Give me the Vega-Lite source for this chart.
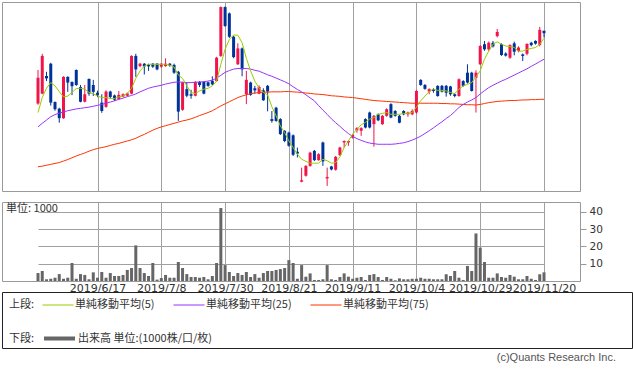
{
  "$schema": "https://vega.github.io/schema/vega-lite/v6.json",
  "padding": {"left": 1, "top": 1, "right": 0, "bottom": 0},
  "background": "white",
  "bounds": "flush",
  "spacing": 11,
  "datasets": {
    "p": [
      {"d":"2019/5/28","o":2869,"h":2981,"l":2865,"c":2955,"v":4.6,"m5":2839,"m25":2791,"m75":2658},
      {"d":"2019/5/29","o":2902,"h":3035,"l":2900,"c":3028,"v":5.8,"m5":2889,"m25":2803,"m75":2660},
      {"d":"2019/5/30","o":2961,"h":2975,"l":2944,"c":2953,"v":1.0,"m5":2920,"m25":2814,"m75":2663},
      {"d":"2019/5/31","o":3002,"h":3005,"l":2862,"c":2872,"v":1.3,"m5":2939,"m25":2825,"m75":2666},
      {"d":"2019/6/3","o":2874,"h":2876,"l":2845,"c":2850,"v":1.9,"m5":2928,"m25":2832,"m75":2669},
      {"d":"2019/6/4","o":2852,"h":2855,"l":2805,"c":2820,"v":4.0,"m5":2909,"m25":2837,"m75":2672},
      {"d":"2019/6/5","o":2820,"h":2960,"l":2818,"c":2958,"v":1.3,"m5":2891,"m25":2841,"m75":2677},
      {"d":"2019/6/6","o":2958,"h":2960,"l":2908,"c":2939,"v":1.9,"m5":2894,"m25":2845,"m75":2682},
      {"d":"2019/6/7","o":2941,"h":2943,"l":2897,"c":2927,"v":10.4,"m5":2906,"m25":2848,"m75":2688},
      {"d":"2019/6/10","o":2981,"h":2983,"l":2928,"c":2931,"v":1.3,"m5":2919,"m25":2851,"m75":2694},
      {"d":"2019/6/11","o":2924,"h":2931,"l":2873,"c":2875,"v":4.0,"m5":2920,"m25":2853,"m75":2699},
      {"d":"2019/6/12","o":2875,"h":2931,"l":2873,"c":2900,"v":3.5,"m5":2917,"m25":2855,"m75":2704},
      {"d":"2019/6/13","o":2951,"h":2953,"l":2895,"c":2902,"v":1.0,"m5":2906,"m25":2857,"m75":2710},
      {"d":"2019/6/14","o":2931,"h":2948,"l":2894,"c":2908,"v":5.0,"m5":2902,"m25":2860,"m75":2715},
      {"d":"2019/6/17","o":2905,"h":2912,"l":2890,"c":2898,"v":1.9,"m5":2894,"m25":2863,"m75":2719},
      {"d":"2019/6/18","o":2872,"h":2900,"l":2838,"c":2844,"v":5.2,"m5":2889,"m25":2866,"m75":2722},
      {"d":"2019/6/19","o":2858,"h":2913,"l":2855,"c":2909,"v":1.9,"m5":2889,"m25":2870,"m75":2725},
      {"d":"2019/6/20","o":2909,"h":2912,"l":2885,"c":2891,"v":4.6,"m5":2886,"m25":2874,"m75":2729},
      {"d":"2019/6/21","o":2896,"h":2899,"l":2878,"c":2882,"v":2.9,"m5":2886,"m25":2878,"m75":2733},
      {"d":"2019/6/24","o":2884,"h":2911,"l":2882,"c":2898,"v":2.9,"m5":2891,"m25":2883,"m75":2736},
      {"d":"2019/6/25","o":2892,"h":2903,"l":2890,"c":2900,"v":3.5,"m5":2894,"m25":2887,"m75":2740},
      {"d":"2019/6/26","o":2895,"h":2906,"l":2893,"c":2903,"v":6.4,"m5":2902,"m25":2892,"m75":2744},
      {"d":"2019/6/27","o":2902,"h":3030,"l":2900,"c":3028,"v":7.5,"m5":2920,"m25":2896,"m75":2748},
      {"d":"2019/6/28","o":3028,"h":3035,"l":2958,"c":2983,"v":20.6,"m5":2953,"m25":2901,"m75":2753},
      {"d":"2019/7/1","o":2994,"h":3005,"l":2990,"c":3002,"v":7.5,"m5":2978,"m25":2908,"m75":2760},
      {"d":"2019/7/2","o":3002,"h":3004,"l":2966,"c":2993,"v":4.6,"m5":2994,"m25":2914,"m75":2766},
      {"d":"2019/7/3","o":2998,"h":3002,"l":2978,"c":2993,"v":2.9,"m5":3000,"m25":2920,"m75":2773},
      {"d":"2019/7/4","o":3002,"h":3004,"l":2988,"c":2992,"v":10.4,"m5":3000,"m25":2924,"m75":2780},
      {"d":"2019/7/5","o":3002,"h":3004,"l":2980,"c":2983,"v":0.8,"m5":3000,"m25":2927,"m75":2786},
      {"d":"2019/7/8","o":2992,"h":3004,"l":2988,"c":3002,"v":1.7,"m5":3000,"m25":2930,"m75":2791},
      {"d":"2019/7/9","o":2994,"h":3020,"l":2992,"c":3002,"v":3.5,"m5":3000,"m25":2934,"m75":2795},
      {"d":"2019/7/10","o":3002,"h":3004,"l":2992,"c":2996,"v":1.9,"m5":2997,"m25":2937,"m75":2799},
      {"d":"2019/7/11","o":2998,"h":3002,"l":2968,"c":2972,"v":1.9,"m5":2991,"m25":2940,"m75":2803},
      {"d":"2019/7/12","o":2975,"h":2978,"l":2811,"c":2842,"v":11.0,"m5":2964,"m25":2941,"m75":2807},
      {"d":"2019/7/16","o":2848,"h":2942,"l":2845,"c":2939,"v":7.5,"m5":2953,"m25":2940,"m75":2811},
      {"d":"2019/7/17","o":2917,"h":2940,"l":2890,"c":2895,"v":4.0,"m5":2928,"m25":2939,"m75":2814},
      {"d":"2019/7/18","o":2900,"h":2915,"l":2885,"c":2895,"v":2.3,"m5":2906,"m25":2939,"m75":2818},
      {"d":"2019/7/19","o":2895,"h":2944,"l":2893,"c":2941,"v":2.3,"m5":2902,"m25":2940,"m75":2823},
      {"d":"2019/7/22","o":2941,"h":2944,"l":2924,"c":2931,"v":1.9,"m5":2911,"m25":2941,"m75":2829},
      {"d":"2019/7/23","o":2941,"h":2944,"l":2900,"c":2902,"v":2.3,"m5":2917,"m25":2942,"m75":2834},
      {"d":"2019/7/24","o":2940,"h":2942,"l":2925,"c":2928,"v":1.0,"m5":2920,"m25":2944,"m75":2839},
      {"d":"2019/7/25","o":2945,"h":2960,"l":2930,"c":2933,"v":2.9,"m5":2928,"m25":2947,"m75":2845},
      {"d":"2019/7/26","o":2944,"h":3025,"l":2942,"c":3022,"v":10.4,"m5":2944,"m25":2954,"m75":2853},
      {"d":"2019/7/29","o":3028,"h":3193,"l":3025,"c":3191,"v":42.2,"m5":3000,"m25":2963,"m75":2861},
      {"d":"2019/7/30","o":3191,"h":3193,"l":3125,"c":3128,"v":9.2,"m5":3050,"m25":2973,"m75":2868},
      {"d":"2019/7/31","o":3170,"h":3173,"l":3088,"c":3092,"v":5.2,"m5":3083,"m25":2979,"m75":2875},
      {"d":"2019/8/1","o":3092,"h":3095,"l":3020,"c":3024,"v":2.9,"m5":3098,"m25":2984,"m75":2882},
      {"d":"2019/8/2","o":3000,"h":3070,"l":2998,"c":3053,"v":4.6,"m5":3097,"m25":2986,"m75":2889},
      {"d":"2019/8/5","o":3053,"h":3056,"l":2960,"c":2983,"v":3.5,"m5":3072,"m25":2986,"m75":2894},
      {"d":"2019/8/6","o":2900,"h":2978,"l":2867,"c":2948,"v":5.2,"m5":3020,"m25":2986,"m75":2898},
      {"d":"2019/8/7","o":2939,"h":2942,"l":2895,"c":2898,"v":2.3,"m5":2978,"m25":2984,"m75":2902},
      {"d":"2019/8/8","o":2920,"h":2928,"l":2902,"c":2913,"v":4.0,"m5":2944,"m25":2980,"m75":2904},
      {"d":"2019/8/9","o":2902,"h":2930,"l":2900,"c":2924,"v":1.9,"m5":2920,"m25":2977,"m75":2906},
      {"d":"2019/8/13","o":2913,"h":2920,"l":2878,"c":2880,"v":4.6,"m5":2906,"m25":2971,"m75":2907},
      {"d":"2019/8/14","o":2928,"h":2931,"l":2843,"c":2909,"v":5.8,"m5":2898,"m25":2965,"m75":2907},
      {"d":"2019/8/15","o":2817,"h":2844,"l":2805,"c":2811,"v":5.8,"m5":2858,"m25":2960,"m75":2908},
      {"d":"2019/8/16","o":2855,"h":2858,"l":2808,"c":2811,"v":6.4,"m5":2828,"m25":2954,"m75":2908},
      {"d":"2019/8/19","o":2817,"h":2820,"l":2764,"c":2767,"v":6.9,"m5":2794,"m25":2948,"m75":2908},
      {"d":"2019/8/20","o":2778,"h":2780,"l":2740,"c":2744,"v":7.5,"m5":2772,"m25":2942,"m75":2909},
      {"d":"2019/8/21","o":2772,"h":2775,"l":2725,"c":2728,"v":12.1,"m5":2744,"m25":2935,"m75":2909},
      {"d":"2019/8/22","o":2763,"h":2766,"l":2694,"c":2698,"v":10.4,"m5":2722,"m25":2925,"m75":2908},
      {"d":"2019/8/23","o":2708,"h":2722,"l":2689,"c":2702,"v":1.3,"m5":2700,"m25":2916,"m75":2907},
      {"d":"2019/8/26","o":2608,"h":2655,"l":2606,"c":2613,"v":9.2,"m5":2683,"m25":2908,"m75":2906},
      {"d":"2019/8/27","o":2628,"h":2663,"l":2625,"c":2661,"v":2.5,"m5":2676,"m25":2898,"m75":2904},
      {"d":"2019/8/28","o":2661,"h":2708,"l":2658,"c":2705,"v":4.4,"m5":2670,"m25":2888,"m75":2903},
      {"d":"2019/8/29","o":2711,"h":2714,"l":2677,"c":2680,"v":0.6,"m5":2670,"m25":2878,"m75":2901},
      {"d":"2019/8/30","o":2680,"h":2703,"l":2678,"c":2700,"v":0.6,"m5":2670,"m25":2862,"m75":2900},
      {"d":"2019/9/2","o":2739,"h":2742,"l":2661,"c":2676,"v":1.0,"m5":2683,"m25":2847,"m75":2899},
      {"d":"2019/9/3","o":2619,"h":2655,"l":2594,"c":2624,"v":9.2,"m5":2678,"m25":2833,"m75":2897},
      {"d":"2019/9/4","o":2659,"h":2661,"l":2646,"c":2649,"v":1.0,"m5":2670,"m25":2818,"m75":2895},
      {"d":"2019/9/5","o":2648,"h":2694,"l":2645,"c":2691,"v":0.6,"m5":2672,"m25":2805,"m75":2894},
      {"d":"2019/9/6","o":2697,"h":2725,"l":2694,"c":2722,"v":2.3,"m5":2691,"m25":2793,"m75":2893},
      {"d":"2019/9/9","o":2739,"h":2746,"l":2722,"c":2744,"v":4.4,"m5":2722,"m25":2780,"m75":2891},
      {"d":"2019/9/10","o":2739,"h":2746,"l":2728,"c":2744,"v":2.5,"m5":2744,"m25":2769,"m75":2890},
      {"d":"2019/9/11","o":2755,"h":2767,"l":2752,"c":2764,"v":1.3,"m5":2767,"m25":2759,"m75":2889},
      {"d":"2019/9/12","o":2780,"h":2790,"l":2772,"c":2787,"v":1.9,"m5":2783,"m25":2752,"m75":2887},
      {"d":"2019/9/13","o":2778,"h":2790,"l":2761,"c":2787,"v":2.3,"m5":2798,"m25":2746,"m75":2885},
      {"d":"2019/9/17","o":2817,"h":2820,"l":2786,"c":2789,"v":0.6,"m5":2806,"m25":2741,"m75":2883},
      {"d":"2019/9/18","o":2839,"h":2842,"l":2786,"c":2789,"v":3.5,"m5":2817,"m25":2737,"m75":2881},
      {"d":"2019/9/19","o":2800,"h":2831,"l":2725,"c":2828,"v":4.0,"m5":2822,"m25":2735,"m75":2879},
      {"d":"2019/9/20","o":2833,"h":2836,"l":2810,"c":2813,"v":2.3,"m5":2833,"m25":2733,"m75":2878},
      {"d":"2019/9/24","o":2800,"h":2831,"l":2798,"c":2828,"v":0.6,"m5":2836,"m25":2733,"m75":2877},
      {"d":"2019/9/25","o":2828,"h":2853,"l":2825,"c":2850,"v":2.3,"m5":2839,"m25":2733,"m75":2876},
      {"d":"2019/9/26","o":2867,"h":2870,"l":2820,"c":2822,"v":1.3,"m5":2833,"m25":2733,"m75":2875},
      {"d":"2019/9/27","o":2844,"h":2847,"l":2825,"c":2828,"v":0.4,"m5":2833,"m25":2734,"m75":2874},
      {"d":"2019/9/30","o":2828,"h":2831,"l":2803,"c":2805,"v":1.5,"m5":2833,"m25":2736,"m75":2873},
      {"d":"2019/10/1","o":2844,"h":2847,"l":2830,"c":2833,"v":1.0,"m5":2836,"m25":2738,"m75":2872},
      {"d":"2019/10/2","o":2833,"h":2842,"l":2825,"c":2839,"v":1.0,"m5":2836,"m25":2742,"m75":2871},
      {"d":"2019/10/3","o":2833,"h":2850,"l":2830,"c":2844,"v":1.3,"m5":2839,"m25":2747,"m75":2870},
      {"d":"2019/10/4","o":2839,"h":2914,"l":2835,"c":2911,"v":1.3,"m5":2857,"m25":2753,"m75":2870},
      {"d":"2019/10/7","o":2948,"h":2950,"l":2928,"c":2931,"v":1.9,"m5":2878,"m25":2760,"m75":2870},
      {"d":"2019/10/8","o":2931,"h":2934,"l":2915,"c":2918,"v":1.3,"m5":2894,"m25":2769,"m75":2870},
      {"d":"2019/10/9","o":2909,"h":2920,"l":2900,"c":2917,"v":1.3,"m5":2909,"m25":2778,"m75":2870},
      {"d":"2019/10/10","o":2917,"h":2920,"l":2905,"c":2911,"v":1.0,"m5":2917,"m25":2788,"m75":2870},
      {"d":"2019/10/11","o":2928,"h":2930,"l":2892,"c":2894,"v":1.0,"m5":2913,"m25":2798,"m75":2870},
      {"d":"2019/10/15","o":2928,"h":2931,"l":2906,"c":2909,"v":1.0,"m5":2913,"m25":2808,"m75":2869},
      {"d":"2019/10/16","o":2928,"h":2931,"l":2892,"c":2905,"v":3.9,"m5":2911,"m25":2819,"m75":2869},
      {"d":"2019/10/17","o":2926,"h":2928,"l":2895,"c":2900,"v":2.9,"m5":2906,"m25":2829,"m75":2868},
      {"d":"2019/10/18","o":2900,"h":2903,"l":2890,"c":2894,"v":5.8,"m5":2902,"m25":2842,"m75":2868},
      {"d":"2019/10/21","o":2894,"h":2953,"l":2892,"c":2950,"v":1.9,"m5":2917,"m25":2856,"m75":2867},
      {"d":"2019/10/23","o":2944,"h":2947,"l":2925,"c":2928,"v":0.6,"m5":2928,"m25":2866,"m75":2866},
      {"d":"2019/10/24","o":2972,"h":3000,"l":2936,"c":2939,"v":8.7,"m5":2933,"m25":2874,"m75":2865},
      {"d":"2019/10/25","o":2972,"h":2975,"l":2909,"c":2911,"v":5.8,"m5":2939,"m25":2881,"m75":2865},
      {"d":"2019/10/28","o":2955,"h":2980,"l":2839,"c":2972,"v":27.5,"m5":2958,"m25":2889,"m75":2864},
      {"d":"2019/10/29","o":3000,"h":3064,"l":2998,"c":3061,"v":19.3,"m5":2978,"m25":2901,"m75":2866},
      {"d":"2019/10/30","o":3067,"h":3078,"l":3045,"c":3050,"v":11.0,"m5":3017,"m25":2912,"m75":2869},
      {"d":"2019/10/31","o":3050,"h":3076,"l":3045,"c":3072,"v":1.9,"m5":3044,"m25":2922,"m75":2872},
      {"d":"2019/11/1","o":3072,"h":3078,"l":3056,"c":3060,"v":1.9,"m5":3067,"m25":2930,"m75":2874},
      {"d":"2019/11/5","o":3094,"h":3118,"l":3090,"c":3108,"v":4.4,"m5":3075,"m25":2937,"m75":2876},
      {"d":"2019/11/6","o":3067,"h":3070,"l":3028,"c":3031,"v":2.3,"m5":3067,"m25":2944,"m75":2877},
      {"d":"2019/11/7","o":3036,"h":3040,"l":3026,"c":3029,"v":1.9,"m5":3061,"m25":2950,"m75":2878},
      {"d":"2019/11/8","o":3022,"h":3067,"l":3018,"c":3064,"v":3.5,"m5":3059,"m25":2957,"m75":2879},
      {"d":"2019/11/11","o":3070,"h":3076,"l":3030,"c":3042,"v":2.5,"m5":3056,"m25":2964,"m75":2879},
      {"d":"2019/11/12","o":3044,"h":3060,"l":3040,"c":3056,"v":1.0,"m5":3044,"m25":2971,"m75":2880},
      {"d":"2019/11/13","o":3033,"h":3036,"l":3011,"c":3028,"v":1.0,"m5":3044,"m25":2978,"m75":2881},
      {"d":"2019/11/14","o":3035,"h":3070,"l":3030,"c":3068,"v":2.9,"m5":3050,"m25":2985,"m75":2881},
      {"d":"2019/11/15","o":3072,"h":3075,"l":3060,"c":3064,"v":1.3,"m5":3053,"m25":2993,"m75":2882},
      {"d":"2019/11/18","o":3078,"h":3080,"l":3066,"c":3069,"v":0.6,"m5":3056,"m25":3001,"m75":2882},
      {"d":"2019/11/19","o":3065,"h":3125,"l":3060,"c":3115,"v":3.9,"m5":3067,"m25":3009,"m75":2883},
      {"d":"2019/11/20","o":3112,"h":3112,"l":3090,"c":3104,"v":5.0,"m5":3087,"m25":3017,"m75":2883}
    ],
    "lg": [
      {"s": "単純移動平均(5)"},
      {"s": "単純移動平均(25)"},
      {"s": "単純移動平均(75)"}
    ]
  },
  "vconcat": [
    {
      "width": 578,
      "height": 189,
      "data": {"name": "p"},
      "encoding": {
        "x": {
          "field": "d", "type": "ordinal", "sort": null,
          "scale": {"type": "point", "padding": 0, "range": [36, 542]},
          "axis": {
            "values": ["2019/6/17","2019/7/8","2019/7/30","2019/8/21","2019/9/11","2019/10/4","2019/10/29","2019/11/20"],
            "labels": false, "ticks": false, "domain": false, "grid": true, "title": null
          }
        }
      },
      "layer": [
        {
          "mark": {"type": "rule", "strokeWidth": 1},
          "encoding": {
            "y": {
              "field": "l", "type": "quantitative",
              "scale": {"domain": [2577, 3208], "zero": false, "nice": false},
              "axis": {
                "orient": "right", "title": null, "values": [2600, 2700, 2800, 2900, 3000, 3100],
                "format": ",", "grid": true, "domain": false, "tickSize": 6, "labelPadding": 4,
                "labelFontSize": 10.5
              }
            },
            "y2": {"field": "h"},
            "color": {"condition": {"test": "datum.c >= datum.o", "value": "#f0144a"}, "value": "#003399"}
          }
        },
        {
          "mark": {"type": "bar", "size": 3},
          "encoding": {
            "y": {"field": "o", "type": "quantitative", "axis": null},
            "y2": {"field": "c"},
            "color": {"condition": {"test": "datum.c >= datum.o", "value": "#f0144a"}, "value": "#003399"}
          }
        },
        {
          "mark": {"type": "line", "color": "#ff3300", "strokeWidth": 1},
          "encoding": {"y": {"field": "m75", "type": "quantitative", "axis": null}}
        },
        {
          "mark": {"type": "line", "color": "#9933ff", "strokeWidth": 1},
          "encoding": {"y": {"field": "m25", "type": "quantitative", "axis": null}}
        },
        {
          "mark": {"type": "line", "color": "#99cc00", "strokeWidth": 1},
          "encoding": {"y": {"field": "m5", "type": "quantitative", "axis": null}}
        }
      ]
    },
    {
      "width": 578,
      "height": 79,
      "data": {"name": "p"},
      "title": {
        "text": "単位: 1000", "anchor": "start", "frame": "group", "offset": -12, "dx": 4,
        "fontSize": 11, "fontWeight": "normal", "color": "#333", "font": "Noto Sans CJK JP"
      },
      "mark": {"type": "bar", "size": 3, "color": "#666666"},
      "encoding": {
        "x": {
          "field": "d", "type": "ordinal", "sort": null,
          "scale": {"type": "point", "padding": 0, "range": [36, 542]},
          "axis": {
            "values": ["2019/6/17","2019/7/8","2019/7/30","2019/8/21","2019/9/11","2019/10/4","2019/10/29","2019/11/20"],
            "ticks": false, "domain": false, "grid": true, "title": null, "labelAngle": 0,
            "labelFontSize": 11, "labelPadding": 1, "labelOverlap": false, "labelFlush": false, "labelBound": false
          }
        },
        "y": {
          "field": "v", "type": "quantitative",
          "scale": {"domain": [0, 45.7], "nice": false},
          "axis": {
            "orient": "right", "title": null, "values": [10, 20, 30, 40], "grid": true, "domain": false,
            "tickSize": 6, "labelPadding": 3, "labelFontSize": 10.5
          }
        }
      }
    },
    {
      "width": 630,
      "height": 56,
      "view": {"stroke": "#222222"},
      "data": {"name": "lg"},
      "title": {
        "text": "(c)Quants Research Inc.", "orient": "bottom", "anchor": "end", "frame": "group",
        "offset": 4, "dx": -16, "fontSize": 11, "fontWeight": "normal", "color": "#555555",
        "font": "Liberation Sans"
      },
      "layer": [
        {
          "mark": {"type": "line", "opacity": 0},
          "encoding": {
            "color": {
              "field": "s", "type": "nominal", "sort": null,
              "scale": {"domain": ["単純移動平均(5)", "単純移動平均(25)", "単純移動平均(75)"], "range": ["#99cc00", "#9933ff", "#ff3300"]},
              "legend": {
                "title": "上段:", "orient": "none", "legendX": 7, "legendY": 7, "direction": "horizontal",
                "titleOrient": "left", "titlePadding": 17,
                "titleFontSize": 11, "titleFontWeight": "normal", "titleColor": "#333", "titleFont": "Noto Sans CJK JP",
                "symbolType": "M-3,0H3", "symbolSize": 107, "symbolStrokeWidth": 1, "symbolOpacity": 1,
                "labelFontSize": 11, "labelColor": "#333", "labelFont": "Noto Sans CJK JP", "labelOffset": 11,
                "labelLimit": 300, "columnPadding": 16, "padding": 0
              }
            }
          }
        },
        {
          "mark": {"type": "line", "opacity": 0},
          "encoding": {
            "color": {
              "datum": "出来高 単位:(1000株/口/枚)", "type": "nominal",
              "scale": {"range": ["#666666"]},
              "legend": {
                "title": "下段:", "orient": "none", "legendX": 7, "legendY": 39, "direction": "horizontal",
                "titleOrient": "left", "titlePadding": 17,
                "titleFontSize": 11, "titleFontWeight": "normal", "titleColor": "#333", "titleFont": "Noto Sans CJK JP",
                "symbolType": "M-3,0H3", "symbolSize": 107, "symbolStrokeWidth": 4, "symbolOpacity": 1,
                "labelFontSize": 11, "labelColor": "#333", "labelFont": "Noto Sans CJK JP", "labelOffset": 11,
                "labelLimit": 300, "padding": 0
              }
            }
          }
        }
      ],
      "resolve": {"scale": {"color": "independent"}, "legend": {"color": "independent"}}
    }
  ],
  "config": {
    "font": "DejaVu Sans",
    "view": {"stroke": "#999999", "strokeWidth": 1},
    "axis": {
      "gridColor": "#a0a0a0", "gridOpacity": 1, "gridWidth": 1,
      "tickColor": "#999999", "labelColor": "#333333", "labelFont": "DejaVu Sans"
    }
  }
}
